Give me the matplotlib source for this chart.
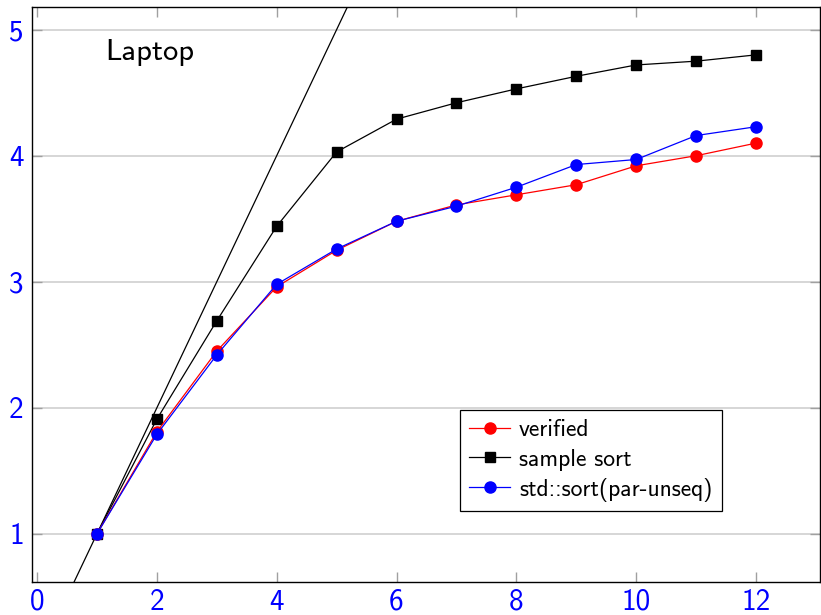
import numpy as np
import matplotlib
matplotlib.use("Agg")
import matplotlib.pyplot as plt

plt.rcParams['font.family'] = ['cmss10', 'DejaVu Sans']
plt.rcParams['axes.unicode_minus'] = False
plt.rcParams['mathtext.fontset'] = 'cm'

threads = [1, 2, 3, 4, 5, 6, 7, 8, 9, 10, 11, 12]
verified = [1.0, 1.81, 2.45, 2.96, 3.25, 3.48, 3.61, 3.69, 3.77, 3.92, 4.00, 4.10]
sample_sort = [1.0, 1.91, 2.69, 3.44, 4.03, 4.29, 4.42, 4.53, 4.63, 4.72, 4.75, 4.80]
std_sort = [1.0, 1.79, 2.42, 2.98, 3.26, 3.48, 3.60, 3.75, 3.93, 3.97, 4.16, 4.23]

xticks = [0, 2, 4, 6, 8, 10, 12]
yticks = [1, 2, 3, 4, 5]

fig = plt.figure(figsize=(8.21, 6.15), dpi=100)
ax = fig.add_axes([0.039, 0.0537, 0.96, 0.935])

# ideal speedup
ideal = np.array([0.0, 14.0])
ax.plot(ideal, ideal, color='black', lw=0.9, zorder=2)

ax.plot(threads, verified, color='red', marker='o', markersize=8, lw=0.9,
        label='verified', zorder=3)
ax.plot(threads, sample_sort, color='black', marker='s', markersize=7.5, lw=0.9,
        label='sample sort', zorder=2.5)
ax.plot(threads, std_sort, color='blue', marker='o', markersize=8, lw=0.9,
        label='std::sort(par-unseq)', zorder=4)

ax.set_xlim(-0.083, 13.07)
ax.set_ylim(0.619, 5.18)
ax.set_xticks(xticks)
ax.set_yticks(yticks)
ax.grid(axis='y', color='#d0d0d0', lw=1.2)
ax.set_axisbelow(True)
ax.tick_params(direction='in', length=7, width=1, color='#a0a0a0',
               labelcolor='blue', labelsize=21, top=True, right=True)
ax.tick_params(axis='x', pad=5)
ax.tick_params(axis='y', pad=6)
for s in ax.spines.values():
    s.set_linewidth(1)

ax.text(0.093, 0.92, 'Laptop', transform=ax.transAxes, fontsize=22,
        va='center', ha='left')

leg = ax.legend(loc='upper left', bbox_to_anchor=(0.543, 0.299), fontsize=17,
                frameon=True, fancybox=False, edgecolor='black', framealpha=1,
                handlelength=1.7, handletextpad=0.4, borderpad=0.4,
                labelspacing=0.3, borderaxespad=0)
leg.get_frame().set_linewidth(0.9)

fig.savefig('out.png', dpi=100)
